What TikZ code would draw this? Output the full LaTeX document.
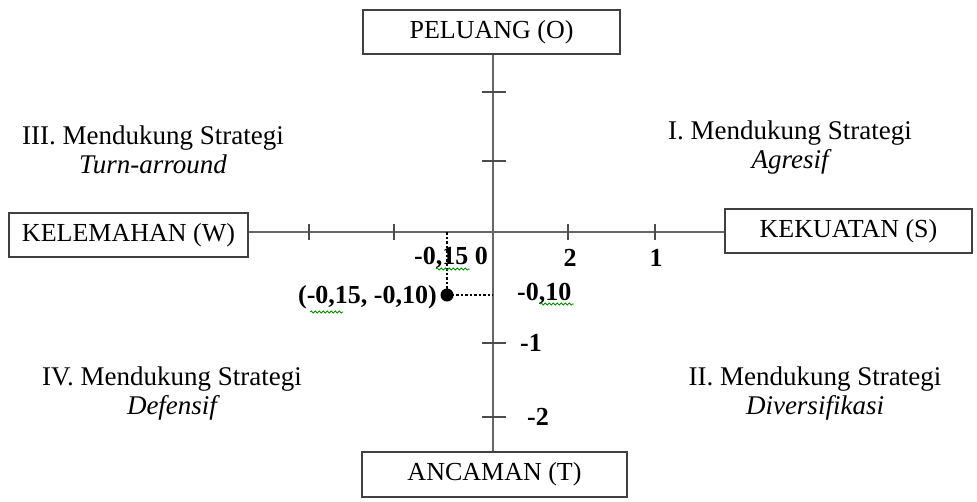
\documentclass[tikz,border=0pt]{standalone}
\usepackage{fontspec}
\setmainfont{Liberation Serif}
\usetikzlibrary{decorations.pathmorphing}
\begin{document}
\begin{tikzpicture}[x=1pt,y=-1pt,
  box/.style={draw=black!75,line width=1.6pt,fill=white,inner sep=0pt,font=\fontsize{26}{30}\selectfont},
  axis/.style={draw=black!60,line width=2.2pt},
  tick/.style={draw=black!70,line width=1.6pt},
  num/.style={font=\fontsize{26}{30}\selectfont\bfseries,inner sep=0pt},
  quad/.style={align=center,font=\fontsize{27}{29}\selectfont,inner sep=0pt},
  guide/.style={draw=black,line width=1.3pt,dash pattern=on 2.5pt off 2pt},
  wavy/.style={draw=green!55!black,line width=0.8pt,decorate,decoration={snake,amplitude=1pt,segment length=4pt}}]
\useasboundingbox (0,0) rectangle (977,501);
% boxes
\node[box,minimum width=257,minimum height=44] (P) at (491.5,32) {PELUANG (O)};
\node[box,minimum width=239,minimum height=44] (W) at (128.5,235) {KELEMAHAN (W)};
\node[box,minimum width=247,minimum height=44] (S) at (848.5,231) {KEKUATAN (S)};
\node[box,minimum width=265,minimum height=45] (T) at (494.5,474.5) {ANCAMAN (T)};
\coordinate (O) at (493,232);
% axes
\draw[axis] (O -| W.east) -- (O -| S.west);
\draw[axis] (O |- P.south) -- (O |- T.north);
% ticks on horizontal axis
\foreach \x in {309,394,568,655} \draw[tick] (\x,224) -- (\x,240);
% ticks on vertical axis
\foreach \y in {92,161,343,417} \draw[tick] (482,\y) -- (506,\y);
% number labels
\node[num,anchor=west] (l15) at (414,258) {-0,15 0};
\node[num] (l2) at (570,258) {2};
\node[num] (l1) at (656,258) {1};
\node[num,anchor=west] (l10) at (517,294) {-0,10};
\node[num,anchor=west] (lm1) at (520,343) {-1};
\node[num,anchor=west] (lm2) at (527,417) {-2};
% point
\coordinate (Q) at (447,295);
\draw[guide] (Q |- O) -- (Q);
\draw[guide] (Q) -- (Q -| O);
\fill[black] (Q) circle (6.5);
\node[num,anchor=east] (pt) at (437,297) {(-0,15, -0,10)};
% spell-check underlines
\draw[wavy] (436,269) -- (470,269);
\draw[wavy] (310,312) -- (343,312);
\draw[wavy] (540,304) -- (574,304);
% quadrant labels
\node[quad] (q3) at (153,150) {III. Mendukung Strategi\\\itshape Turn-arround};
\node[quad] (q1) at (790,148) {I. Mendukung Strategi\\\itshape Agresif};
\node[quad] (q4) at (172,393) {IV. Mendukung Strategi\\\itshape Defensif};
\node[quad] (q2) at (815,393) {II. Mendukung Strategi\\\itshape Diversifikasi};
\end{tikzpicture}
\end{document}
